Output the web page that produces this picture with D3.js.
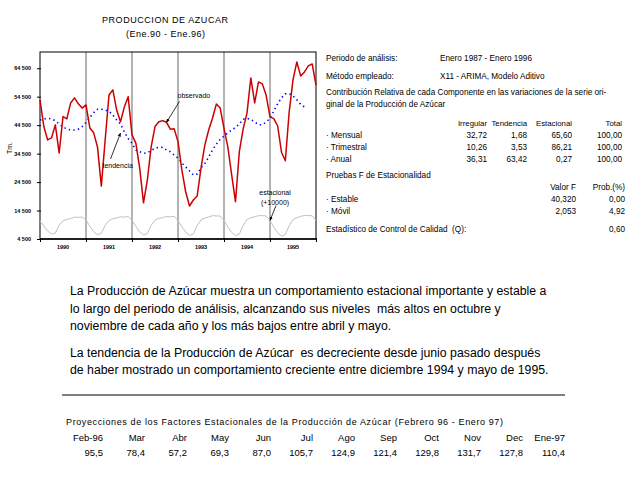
<!DOCTYPE html>
<html>
<head>
<meta charset="utf-8">
<script src="https://cdn.jsdelivr.net/npm/d3@7"></script>
<style>
  body { margin: 0; background: #fff; }
  svg { display: block; font-family: "Liberation Sans", Arial, sans-serif; }
  text { white-space: pre; }
</style>
</head>
<body>
<svg id="chart" width="640" height="480"></svg>
<script>
// Serie mensual Ene.90 - Ene.96 (Tm.)
const observado = [
    53400, 44000, 39300, 40000, 44600, 34700, 47500, 46700, 52300, 54100, 52000, 50500,
    51600, 43500, 41800, 36800, 23100, 39300, 55100, 56900, 49800, 45700, 50900, 54500,
    41100, 38200, 29500, 17200, 25200, 36900, 44000, 45700, 46100, 45500, 43100, 43200,
    38700, 28800, 21100, 16100, 18200, 19600, 29400, 37500, 42800, 46900, 51900, 50500,
    43400, 36900, 27000, 17600, 35200, 43200, 48700, 61100, 52300, 59700, 59000, 55000,
    47400, 46800, 44200, 35000, 32000, 49100, 60400, 66700, 61800, 63200, 65300, 66000,
    58600
];

// tendencia llega hasta Oct.95
const tendencia = [
    46300, 46700, 46900, 46700, 46000, 44900, 43800, 43200, 42800, 42800, 43100, 44000,
    45400, 47200, 48900, 50100, 50100, 49800, 49400, 48100, 46300, 44900, 42200, 39800,
    38100, 35800, 35200, 34600, 34800, 35600, 36400, 36700, 36700, 35800, 35100, 34000,
    32900, 31200, 29800, 28400, 27000, 27300, 29500, 31000, 33300, 35800, 37800, 39500,
    40700, 41800, 42800, 43700, 44900, 46600, 46900, 46500, 45600, 44700, 44600, 45600,
    46900, 49500, 52000, 54100, 55500, 55600, 54800, 53400, 51800, 50900
];

// componente estacional (se grafica + 10000)
const estacional = [
    800, -900, -2700, -3800, -3400, -600, 900, 1400, 1700, 2200, 2100, 2200,
    1200, -1000, -2900, -4000, -3500, -700, 1000, 1600, 1900, 2300, 2200, 2400,
    1100, -1100, -3000, -4100, -3600, -700, 1100, 1800, 2000, 2400, 2300, 2500,
    1000, -1200, -3100, -4200, -3700, -800, 1200, 1900, 2200, 2700, 2600, 2600,
    1000, -1300, -3200, -4300, -3800, -800, 1300, 2000, 2300, 2700, 2700, 2600,
    1000, -1400, -3300, -4500, -3900, -900, 1300, 2000, 2400, 2800, 2700, 2700,
    1000
];
const estacionalOffset = 10000;

const years = ["1990", "1991", "1992", "1993", "1994", "1995"];
const yTicks = [4500, 14500, 24500, 34500, 44500, 54500, 64500];

// Contribucion relativa
const componentes = ["· Mensual", "· Trimestral", "· Anual"];
const irregular = [32.72, 10.26, 36.31];
const tendPct = [1.68, 3.53, 63.42];
const estacPct = [65.60, 86.21, 0.27];
const total = [100, 100, 100];

// Pruebas F
const pruebas = ["· Estable", "· Móvil"];
const valorF = [40.320, 2.053];
const probF = [0.00, 4.92];
const calidadQ = 0.60;

// Proyecciones factores estacionales
const projMeses = ["Feb-96", "Mar", "Abr", "May", "Jun", "Jul", "Ago", "Sep", "Oct", "Nov", "Dec", "Ene-97"];
const projValores = [95.5, 78.4, 57.2, 69.3, 87.0, 105.7, 124.9, 121.4, 129.8, 131.7, 127.8, 110.4];

const parrafo = [
    "La Producción de Azúcar muestra un comportamiento estacional importante y estable a",
    "lo largo del periodo de análisis, alcanzando sus niveles  más altos en octubre y",
    "noviembre de cada año y los más bajos entre abril y mayo.",
    "",
    "La tendencia de la Producción de Azúcar  es decreciente desde junio pasado después",
    "de haber mostrado un comportamiento creciente entre diciembre 1994 y mayo de 1995."
];

/*
 * Setup
 */
const svg = d3.select("#chart");
svg.append("rect").attr("width", 640).attr("height", 480).attr("fill", "#fff");

const es = d3.formatLocale({ decimal: ",", thousands: " ", grouping: [3], currency: ["", ""] });
const f1 = es.format(".1f"), f2 = es.format(".2f"), f3 = es.format(".3f"), fInt = es.format(",d");

const plot = { left: 40, right: 316, top: 52, bottom: 239 };
const x = d3.scaleLinear().domain([0, 72]).range([plot.left, plot.right]);
const y = d3.scaleLinear().domain([4500, 70200]).range([plot.bottom, plot.top]);

// Title
svg.append("text").attr("x", 102).attr("y", 23).attr("font-size", 9)
    .attr("textLength", 126).attr("lengthAdjust", "spacing")
    .text("PRODUCCION DE AZUCAR");
svg.append("text").attr("x", 126).attr("y", 37).attr("font-size", 9)
    .attr("textLength", 79).attr("lengthAdjust", "spacing")
    .text("(Ene.90 - Ene.96)");

/*
 * Chart
 */
// year separators
svg.append("g").selectAll("line")
    .data(d3.range(12, 72, 12))
    .enter().append("line")
    .attr("x1", d => x(d)).attr("x2", d => x(d))
    .attr("y1", plot.top).attr("y2", plot.bottom)
    .attr("stroke", "#808080").attr("stroke-width", 1.2);

// frame
svg.append("rect")
    .attr("x", plot.left).attr("y", plot.top)
    .attr("width", plot.right - plot.left).attr("height", plot.bottom - plot.top)
    .attr("fill", "none").attr("stroke", "#000").attr("stroke-width", 1);

const yAxis = svg.append("g")
    .attr("transform", `translate(${plot.left + 1},0)`)
    .call(d3.axisLeft(y).tickValues(yTicks).tickSize(4).tickPadding(6).tickFormat(fInt));
yAxis.select(".domain").remove();
yAxis.selectAll("text").attr("font-size", 5.5).attr("font-weight", "bold")
    .attr("font-family", "Liberation Sans, Arial, sans-serif");

const xAxis = svg.append("g")
    .attr("transform", `translate(0,${plot.bottom - 1})`)
    .call(d3.axisBottom(x).tickValues(d3.range(0, 73, 12)).tickSize(4).tickFormat(""));
xAxis.select(".domain").remove();
svg.append("line").attr("x1", plot.left).attr("x2", plot.right)
    .attr("y1", plot.bottom).attr("y2", plot.bottom)
    .attr("stroke", "#000").attr("stroke-width", 1.3);
svg.append("g").selectAll("text")
    .data(years)
    .enter().append("text")
    .attr("x", (d, i) => x(i * 12 + 6)).attr("y", plot.bottom + 10)
    .attr("text-anchor", "middle").attr("font-size", 5.5).attr("font-weight", "bold")
    .text(d => d);

svg.append("text")
    .attr("transform", `translate(12,148) rotate(-90)`)
    .attr("text-anchor", "middle").attr("font-size", 7)
    .text("Tm.");

const line = d3.line().x((d, i) => x(i)).y(d => y(d));

svg.append("path").datum(estacional.map(d => d + estacionalOffset))
    .attr("d", line).attr("fill", "none")
    .attr("stroke", "#c0c0c0").attr("stroke-width", 1);

svg.append("path").datum(tendencia)
    .attr("d", line).attr("fill", "none")
    .attr("stroke", "#0000ff").attr("stroke-width", 1.6)
    .attr("stroke-dasharray", "1.4,3.2");

svg.append("path").datum(observado)
    .attr("d", line).attr("fill", "none")
    .attr("stroke", "#cc0000").attr("stroke-width", 1.5)
    .attr("stroke-linejoin", "round");

// annotations
svg.append("defs").append("marker")
    .attr("id", "arrow").attr("viewBox", "0 0 10 10")
    .attr("refX", 9).attr("refY", 5)
    .attr("markerWidth", 5).attr("markerHeight", 5)
    .attr("orient", "auto")
    .append("path").attr("d", "M0,1 L10,5 L0,9 Z").attr("fill", "#000");

function annotate(tip, from, label, lines) {
    svg.append("line")
        .attr("x1", from[0]).attr("y1", from[1])
        .attr("x2", tip[0]).attr("y2", tip[1])
        .attr("stroke", "#000").attr("stroke-width", 0.8)
        .attr("marker-end", "url(#arrow)");
    lines.forEach((t, i) => {
        svg.append("text")
            .attr("x", label[0]).attr("y", label[1] + i * 10)
            .attr("text-anchor", label[2]).attr("font-size", 7)
            .text(t);
    });
}

const tipObs = [x(33), y(observado[33])];
annotate(tipObs, [tipObs[0] + 13, tipObs[1] - 21], [tipObs[0] + 11, tipObs[1] - 24, "start"], ["observado"]);

const tipTend = [x(21), y(tendencia[21]) + 9];
annotate(tipTend, [tipTend[0] - 10, tipTend[1] + 26], [tipTend[0] - 18, tipTend[1] + 35, "start"], ["tendencia"]);

const tipEst = [x(60), y(estacional[60] + estacionalOffset)];
annotate(tipEst, [tipEst[0] + 6, tipEst[1] - 15], [tipEst[0] + 5, tipEst[1] - 25, "middle"], ["estacional", "(+10000)"]);

/*
 * Right panel
 */
const px = 326;
const panel = svg.append("g").attr("font-size", 8.2);
function txt(xp, yp, t, anchor) {
    return panel.append("text").attr("x", xp).attr("y", yp)
        .attr("text-anchor", anchor || "start").text(t);
}
txt(px, 61, "Periodo de análisis:");
txt(440, 61, "Enero 1987 - Enero 1996");
txt(px, 79, "Método empleado:");
txt(440, 79, "X11 - ARIMA, Modelo Aditivo");
txt(px, 95, "Contribución Relativa de cada Componente en las variaciones de la serie ori-");
txt(px, 107, "ginal de la Producción de Azúcar");

const colR = [487, 527, 572, 622];
["Irregular", "Tendencia", "Estacional", "Total"].forEach((h, i) =>
    txt(colR[i], 126, h, "end").attr("font-size", 7.8));
componentes.forEach((c, i) => {
    const yy = 138 + i * 12;
    txt(px, yy, c);
    txt(colR[0], yy, f2(irregular[i]), "end");
    txt(colR[1], yy, f2(tendPct[i]), "end");
    txt(colR[2], yy, f2(estacPct[i]), "end");
    txt(colR[3], yy, f2(total[i]), "end");
});

txt(px, 178, "Pruebas F de Estacionalidad");
txt(576, 190, "Valor F", "end");
txt(625, 190, "Prob.(%)", "end");
pruebas.forEach((p, i) => {
    const yy = 202 + i * 12;
    txt(px, yy, p);
    txt(576, yy, f3(valorF[i]), "end");
    txt(625, yy, f2(probF[i]), "end");
});
txt(px, 232, "Estadístico de Control de Calidad  (Q):");
txt(625, 232, f2(calidadQ), "end");

/*
 * Comment paragraph
 */
svg.append("g").attr("font-size", 12.3).selectAll("text")
    .data(parrafo)
    .enter().append("text")
    .attr("x", 70).attr("y", (d, i) => 295 + i * 17.5 - (i > 3 ? 8.5 : 0))
    .text(d => d);

svg.append("line").attr("x1", 62).attr("x2", 565).attr("y1", 395).attr("y2", 395)
    .attr("stroke", "#000").attr("stroke-width", 1);

/*
 * Projections table
 */
svg.append("text").attr("x", 66).attr("y", 425).attr("font-size", 9)
    .attr("textLength", 437).attr("lengthAdjust", "spacing")
    .text("Proyecciones de los Factores Estacionales de la Producción de Azúcar (Febrero 96 - Enero 97)");

const colX = d3.scalePoint().domain(d3.range(projMeses.length)).range([103, 565]);
const proj = svg.append("g").attr("font-size", 9.5).attr("text-anchor", "end");
proj.selectAll(".mes").data(projMeses).enter().append("text")
    .attr("class", "mes").attr("x", (d, i) => colX(i)).attr("y", 441).text(d => d);
proj.selectAll(".val").data(projValores).enter().append("text")
    .attr("class", "val").attr("x", (d, i) => colX(i)).attr("y", 456).text(d => f1(d));
</script>
</body>
</html>
